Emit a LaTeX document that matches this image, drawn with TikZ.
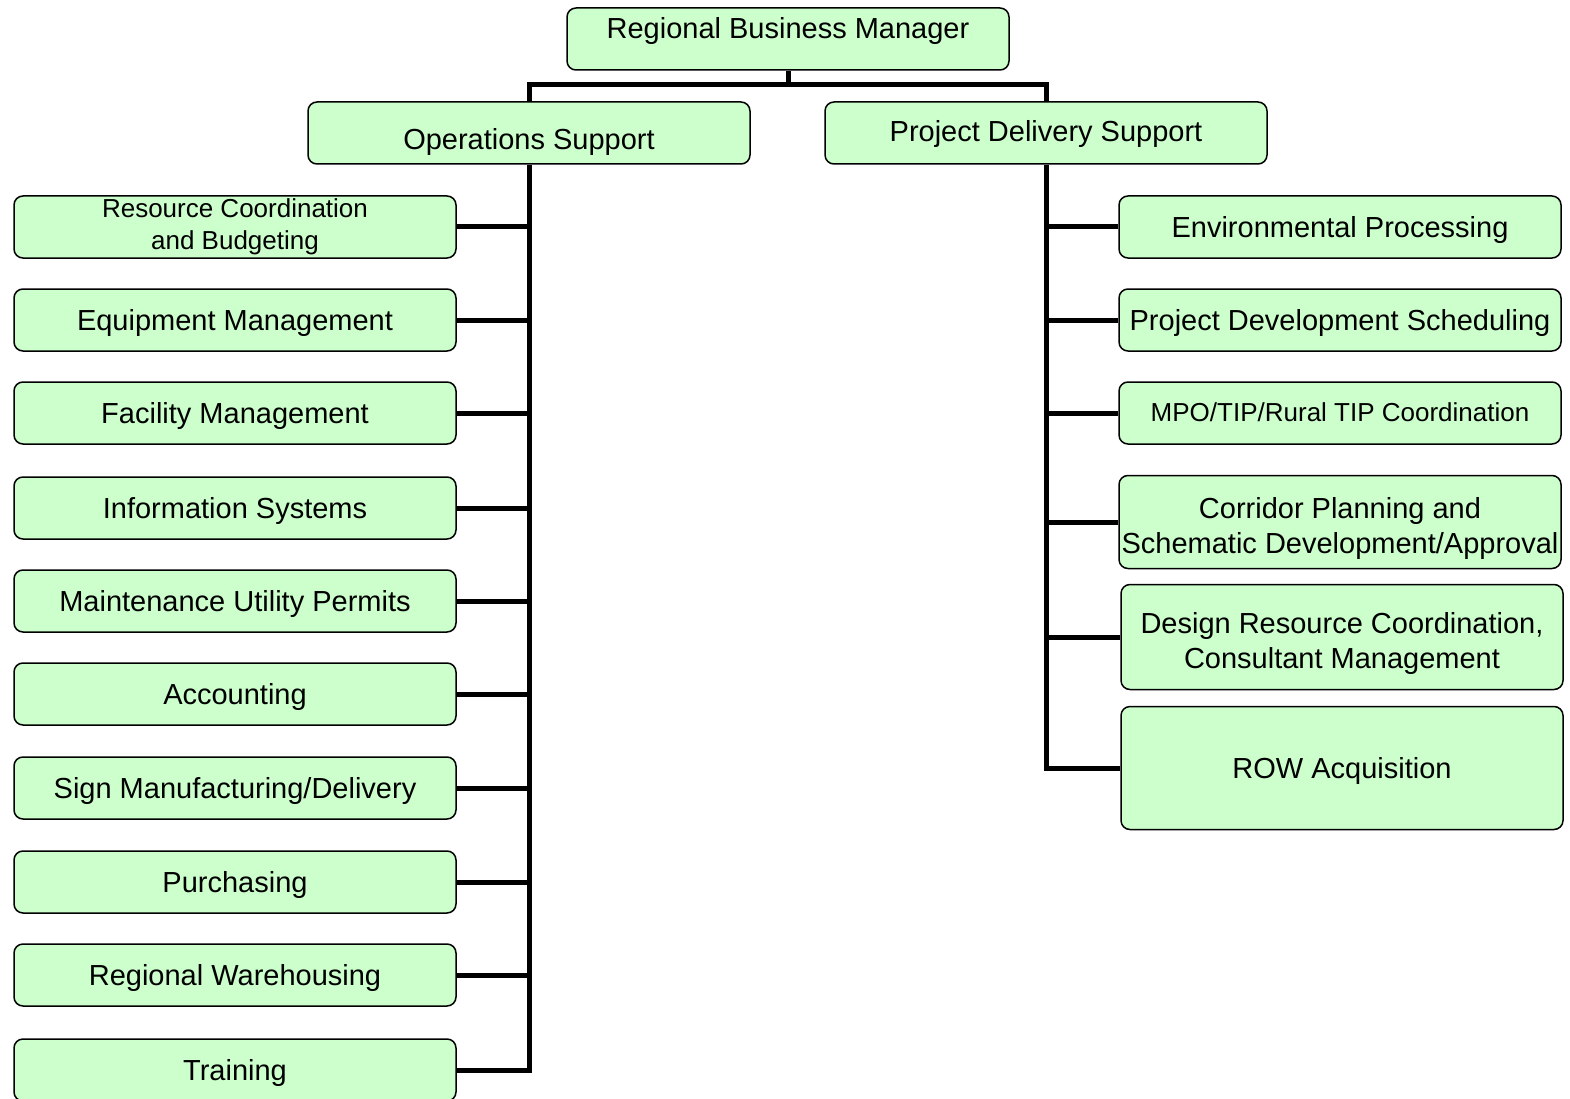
\documentclass[tikz,border=0pt]{standalone}
\usepackage{fontspec}
\setmainfont{Liberation Sans}
\definecolor{boxgreen}{HTML}{CCFFCC}
\tikzset{
  unit/.style={draw=black, line width=1.5pt, fill=boxgreen, rounded corners=9pt,
    minimum width=442pt, minimum height=62pt, inner sep=0pt, align=center,
    font=\fontsize{29}{35}\selectfont},
  one/.style={text height=26pt, text depth=6pt},
  small/.style={font=\fontsize{26}{32}\selectfont},
  link/.style={line width=5pt}
}
\begin{document}
\begin{tikzpicture}[x=1pt,y=-1pt]
\useasboundingbox (0,0) rectangle (1570,1099);
% top levels
\node[unit,text height=6pt,text depth=6pt] (rbm) at (788,39) {Regional Business Manager};
\node[unit,text height=40pt,text depth=6pt] (ops) at (529,133) {Operations Support};
\node[unit,text height=24pt,text depth=6pt] (pds) at (1046,133) {Project Delivery Support};
\coordinate (bus) at (788,85);
\draw[link] (rbm.south) -- (bus);
\draw[link] (ops.north) |- (bus) -| (pds.north);
% operations support units
\node[unit,small] (rcb) at (235,227) {Resource Coordination\\and Budgeting};
\foreach \y/\name/\txt in {320/eqm/Equipment Management, 413/fcm/Facility Management,
    508/ifs/Information Systems, 601/mup/Maintenance Utility Permits, 694/acc/Accounting,
    788/smd/{Sign Manufacturing/Delivery}, 882/pur/Purchasing, 975/rwh/Regional Warehousing,
    1070/trn/Training}
  \node[unit,one] (\name) at (235,\y) {\txt};
\draw[link] (ops.south) |- (trn.east);
\foreach \name in {rcb,eqm,fcm,ifs,mup,acc,smd,pur,rwh}
  \draw[link] (\name.east) -- (\name.east -| ops.south);
% project delivery support units
\node[unit,one] (env) at (1340,227) {Environmental Processing};
\node[unit,one] (pdv) at (1340,320) {Project Development Scheduling};
\node[unit,small,text height=23pt,text depth=6pt] (mpo) at (1340,413) {MPO/TIP/Rural TIP Coordination};
\node[unit,minimum height=93pt] (cor) at (1340,522) {\rule{0pt}{34pt}Corridor Planning and\\Schematic Development/Approval};
\node[unit,minimum height=105pt] (drc) at (1342,637) {\rule{0pt}{34pt}Design Resource Coordination,\\Consultant Management};
\node[unit,one,minimum height=123pt] (row) at (1342,768) {ROW Acquisition};
\draw[link] (pds.south) |- (row.west);
\foreach \name in {env,pdv,mpo,cor,drc}
  \draw[link] (\name.west) -- (\name.west -| pds.south);
\end{tikzpicture}
\end{document}
